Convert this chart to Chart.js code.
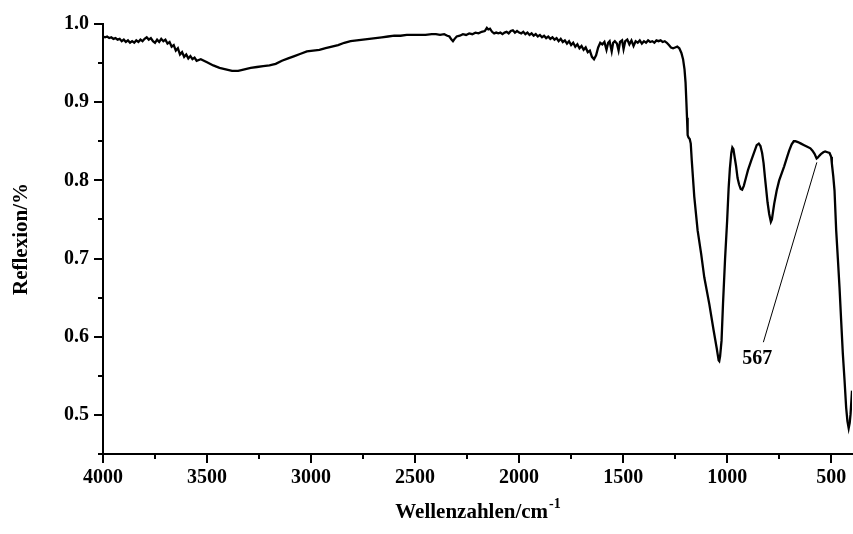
<!DOCTYPE html>
<html>
<head>
<meta charset="utf-8">
<script src="https://cdn.jsdelivr.net/npm/chart.js@4.4.0/dist/chart.umd.min.js"></script>
<style>
  html, body { margin: 0; padding: 0; background: #fff; }
</style>
</head>
<body>
<canvas id="irChart" width="853" height="534"></canvas>
<script>
// IR spectrum
const wavenumbers = [
  4000, 3990, 3980, 3970, 3960, 3950, 3940, 3930, 3920, 3910, 3900, 3890, 3880, 3870, 3860, 3850,
  3840, 3830, 3820, 3810, 3800, 3790, 3780, 3770, 3760, 3750, 3740, 3730, 3720, 3710, 3700, 3690,
  3680, 3670, 3660, 3650, 3640, 3630, 3620, 3610, 3600, 3590, 3580, 3570, 3560, 3550, 3530, 3500,
  3470, 3440, 3410, 3380, 3350, 3320, 3290, 3260, 3230, 3200, 3170, 3140, 3110, 3080, 3050, 3020,
  2990, 2960, 2930, 2900, 2870, 2840, 2810, 2780, 2750, 2720, 2690, 2660, 2630, 2600, 2570, 2540,
  2510, 2480, 2450, 2420, 2400, 2380, 2360, 2345, 2335, 2325, 2318, 2310, 2300, 2285, 2270, 2255,
  2240, 2225, 2210, 2195, 2180, 2165, 2155, 2148, 2140, 2130, 2120, 2110, 2100, 2090, 2080, 2070,
  2060, 2050, 2040, 2030, 2020, 2010, 2000, 1990, 1980, 1970, 1960, 1950, 1940, 1930, 1920, 1910,
  1900, 1890, 1880, 1870, 1860, 1850, 1840, 1830, 1820, 1810, 1800, 1790, 1780, 1770, 1760, 1750,
  1740, 1730, 1720, 1710, 1700, 1690, 1680, 1670, 1660, 1650, 1640, 1630, 1620, 1610, 1600, 1590,
  1580, 1572, 1565, 1555, 1548, 1540, 1530, 1522, 1515, 1505, 1498, 1490, 1480, 1470, 1460, 1450,
  1440, 1430, 1420, 1410, 1400, 1390, 1380, 1370, 1360, 1350, 1340, 1330, 1320, 1310, 1300, 1290,
  1280, 1270, 1260, 1250, 1240, 1230, 1220, 1212, 1205, 1200, 1196, 1193, 1190, 1186, 1180, 1175,
  1170, 1158, 1142, 1125, 1110, 1086, 1065, 1050, 1046, 1041, 1038, 1034, 1027, 1020, 1010, 1000,
  993, 987, 980, 975, 970, 963, 957, 950, 943, 935, 928, 920, 910, 900, 885, 870,
  858, 848, 840, 832, 825, 818, 813, 806, 798, 790, 785, 774, 762, 750, 738, 726,
  714, 702, 690, 680, 672, 660, 645, 630, 615, 600, 590, 580, 570, 565, 555, 548,
  538, 529, 518, 508, 500, 497, 490, 484, 476, 468, 460, 452, 444, 436, 428, 422,
  416, 411, 407, 403, 400
];
const reflexion = [
  0.984, 0.983, 0.984, 0.982, 0.983, 0.981, 0.982, 0.980, 0.981, 0.978, 0.980, 0.977, 0.979, 0.976, 0.978, 0.976,
  0.979, 0.977, 0.980, 0.978, 0.981, 0.983, 0.980, 0.982, 0.978, 0.976, 0.980, 0.977, 0.981, 0.978, 0.980, 0.975,
  0.977, 0.971, 0.973, 0.966, 0.969, 0.961, 0.964, 0.958, 0.961, 0.956, 0.959, 0.955, 0.957, 0.953, 0.955, 0.951,
  0.947, 0.944, 0.942, 0.940, 0.940, 0.942, 0.944, 0.945, 0.946, 0.947, 0.949, 0.953, 0.956, 0.959, 0.962, 0.965,
  0.966, 0.967, 0.969, 0.971, 0.973, 0.976, 0.978, 0.979, 0.980, 0.981, 0.982, 0.983, 0.984, 0.985, 0.985, 0.986,
  0.986, 0.986, 0.986, 0.987, 0.987, 0.986, 0.987, 0.985, 0.984, 0.980, 0.978, 0.981, 0.984, 0.985, 0.987, 0.986,
  0.988, 0.987, 0.989, 0.988, 0.990, 0.991, 0.995, 0.993, 0.994, 0.990, 0.988, 0.989, 0.988, 0.989, 0.987, 0.989,
  0.990, 0.988, 0.991, 0.992, 0.989, 0.991, 0.989, 0.988, 0.990, 0.987, 0.989, 0.986, 0.988, 0.985, 0.987, 0.984,
  0.986, 0.983, 0.985, 0.982, 0.984, 0.981, 0.983, 0.980, 0.982, 0.978, 0.981, 0.977, 0.979, 0.975, 0.978, 0.973,
  0.976, 0.971, 0.974, 0.969, 0.972, 0.967, 0.970, 0.964, 0.966, 0.958, 0.955, 0.960, 0.970, 0.976, 0.974, 0.977,
  0.967, 0.976, 0.978, 0.965, 0.976, 0.978, 0.975, 0.966, 0.977, 0.979, 0.968, 0.978, 0.980, 0.974, 0.979, 0.972,
  0.978, 0.976, 0.979, 0.975, 0.978, 0.976, 0.979, 0.977, 0.978, 0.976, 0.979, 0.978, 0.979, 0.977, 0.978, 0.976,
  0.973, 0.970, 0.969, 0.970, 0.971, 0.969, 0.963, 0.955, 0.942, 0.925, 0.900, 0.880, 0.858, 0.855, 0.853, 0.847,
  0.825, 0.779, 0.736, 0.706, 0.676, 0.642, 0.608, 0.585, 0.578, 0.570, 0.569, 0.575, 0.595, 0.642, 0.700, 0.749,
  0.790, 0.815, 0.835, 0.842, 0.840, 0.828, 0.818, 0.803, 0.795, 0.789, 0.788, 0.793, 0.803, 0.813, 0.825, 0.836,
  0.845, 0.847, 0.844, 0.835, 0.822, 0.803, 0.790, 0.772, 0.757, 0.747, 0.750, 0.770, 0.787, 0.800, 0.809, 0.818,
  0.828, 0.838, 0.846, 0.850, 0.850, 0.849, 0.847, 0.845, 0.843, 0.841, 0.838, 0.834, 0.828, 0.829, 0.832, 0.834,
  0.836, 0.837, 0.836, 0.835, 0.830, 0.822, 0.805, 0.787, 0.736, 0.700, 0.663, 0.620, 0.578, 0.545, 0.509, 0.492,
  0.483, 0.490, 0.501, 0.518, 0.531
];

const xMajorTicks = [4000, 3500, 3000, 2500, 2000, 1500, 1000, 500];
const yMajorTicks = [0.5, 0.6, 0.7, 0.8, 0.9, 1.0];

// annotation for the 567 band: leader line from the band to the label
const peakName = '567';
const leaderFrom = { x: 569, y: 0.823 };
const leaderTo = { x: 826, y: 0.593 };
const peakTextAt = { x: 856, y: 0.572 };

const serif = '"Liberation Serif", "Times New Roman", serif';

const axisDecor = {
  id: 'axisDecor',
  afterDraw(chart) {
    const { ctx, chartArea: a, scales: { x, y } } = chart;
    ctx.save();
    ctx.strokeStyle = '#000';
    ctx.lineWidth = 2;
    ctx.beginPath();
    // x ticks, major every 500, minor in between
    for (let v = 4000; v >= 400; v -= 250) {
      const px = Math.round(x.getPixelForValue(v));
      const len = v % 500 === 0 ? 9 : 5;
      ctx.moveTo(px, a.bottom);
      ctx.lineTo(px, a.bottom + len);
    }
    // y ticks, major every 0.1, minor in between
    for (let i = 0; i <= 11; i++) {
      const v = 0.45 + i * 0.05;
      const py = Math.round(y.getPixelForValue(v));
      const len = i % 2 === 1 ? 9 : 5;
      ctx.moveTo(a.left, py);
      ctx.lineTo(a.left - len, py);
    }
    ctx.stroke();

    // peak label
    ctx.fillStyle = '#000';
    ctx.font = 'bold 20px ' + serif;
    ctx.textAlign = 'center';
    ctx.textBaseline = 'middle';
    ctx.fillText(peakName, x.getPixelForValue(peakTextAt.x), y.getPixelForValue(peakTextAt.y));

    // x axis title with superscript
    const main = 'Wellenzahlen/cm';
    const sup = '-1';
    ctx.font = 'bold 21px ' + serif;
    const wMain = ctx.measureText(main).width;
    ctx.font = 'bold 14px ' + serif;
    const wSup = ctx.measureText(sup).width;
    const cx = (a.left + a.right) / 2;
    const startX = cx - (wMain + wSup) / 2;
    const baseY = 518;
    ctx.textAlign = 'left';
    ctx.textBaseline = 'alphabetic';
    ctx.font = 'bold 21px ' + serif;
    ctx.fillText(main, startX, baseY);
    ctx.font = 'bold 14px ' + serif;
    ctx.fillText(sup, startX + wMain + 1, baseY - 10);
    ctx.restore();
  }
};

new Chart(document.getElementById('irChart').getContext('2d'), {
  type: 'line',
  data: {
    datasets: [
      {
        data: wavenumbers.map((w, i) => ({ x: w, y: reflexion[i] })),
        borderColor: '#000',
        borderWidth: 2.3,
        pointRadius: 0,
        tension: 0
      },
      {
        data: [leaderFrom, leaderTo],
        borderColor: '#000',
        borderWidth: 1,
        pointRadius: 0
      }
    ]
  },
  options: {
    responsive: false,
    animation: false,
    events: [],
    layout: { padding: { top: 24, right: 1, left: 0, bottom: 0 } },
    plugins: { legend: { display: false }, tooltip: { enabled: false } },
    scales: {
      x: {
        type: 'linear',
        reverse: true,
        min: 400,
        max: 4000,
        afterBuildTicks: s => { s.ticks = xMajorTicks.map(v => ({ value: v })); },
        afterFit: s => { s.height = 80; s.paddingLeft = 0; s.paddingRight = 0; },
        grid: { display: false, drawTicks: false },
        border: { display: true, color: '#000', width: 2 },
        ticks: {
          color: '#000',
          padding: 12,
          maxRotation: 0,
          callback: v => String(v),
          font: { family: serif, size: 20, weight: 'bold' }
        }
      },
      y: {
        min: 0.45,
        max: 1.0,
        afterBuildTicks: s => { s.ticks = yMajorTicks.map(v => ({ value: v })); },
        afterFit: s => { s.width = 103; s.paddingTop = 0; s.paddingBottom = 0; },
        grid: { display: false, drawTicks: false },
        border: { display: true, color: '#000', width: 2 },
        ticks: {
          color: '#000',
          padding: 14,
          callback: v => v.toFixed(1),
          font: { family: serif, size: 20, weight: 'bold' }
        },
        title: {
          display: true,
          text: 'Reflexion/%',
          color: '#000',
          padding: { top: 9, bottom: 0 },
          font: { family: serif, size: 21, weight: 'bold' }
        }
      }
    }
  },
  plugins: [axisDecor]
});
</script>
</body>
</html>
